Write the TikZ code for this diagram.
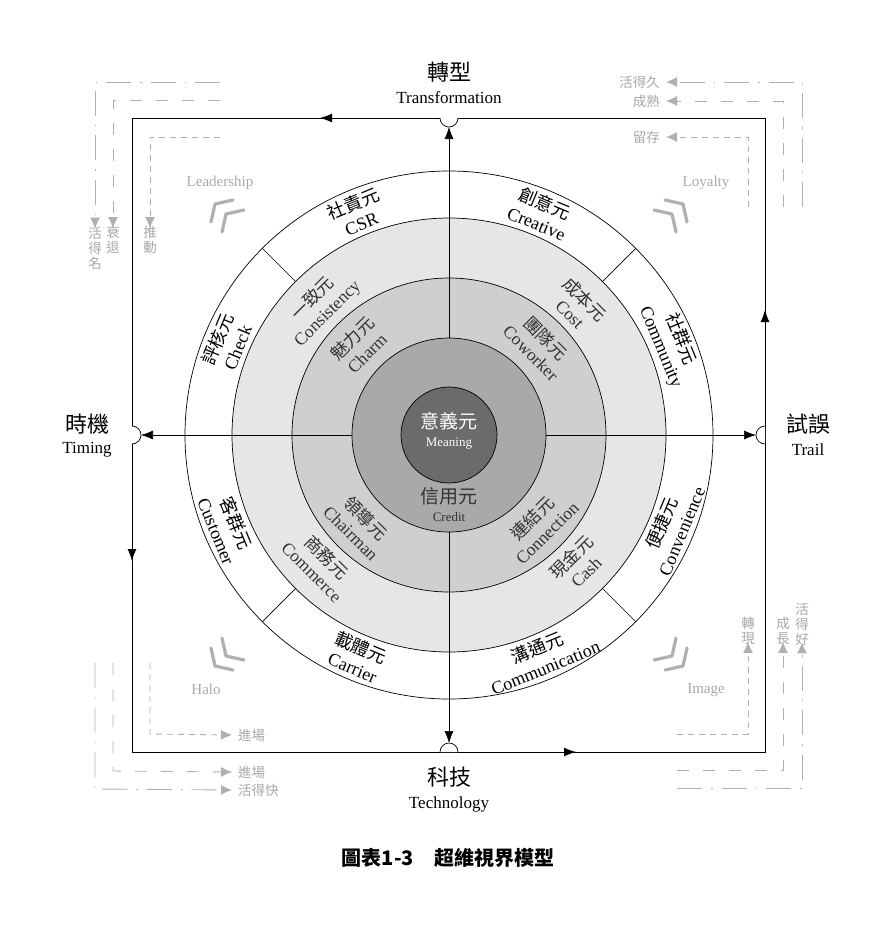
\documentclass[tikz,border=0pt]{standalone}
\usepackage{fontspec}
\setmainfont{Liberation Serif}
\newfontfamily\cjk{Noto Sans CJK TC}
\usetikzlibrary{arrows.meta,decorations.markings}
\definecolor{gl}{HTML}{B0B0B2}
\definecolor{gt}{HTML}{A8A8AA}
\definecolor{r1}{HTML}{E6E6E8}
\definecolor{r2}{HTML}{CFCFD1}
\definecolor{r3}{HTML}{A9A9AB}
\definecolor{r4}{HTML}{6B6B6D}
\begin{document}
\begin{tikzpicture}[x=1pt,y=-1pt,
  lbl/.style={align=center,font=\fontsize{18}{21}\selectfont,inner sep=0pt},
  lblin/.style={lbl,text=black!80,font=\fontsize{17.5}{20.5}\selectfont},
  gline/.style={gl,line width=0.9pt},
  gin/.style={gline,dash pattern=on 6pt off 5pt},
  gmid/.style={gline,dash pattern=on 12pt off 14pt},
  gout/.style={gline,dash pattern=on 25pt off 9pt on 1.5pt off 9pt},
  gtip/.style={-{Latex[length=11pt,width=10pt]}},
  gtext/.style={text=gt,font=\cjk\fontsize{13.5}{15}\selectfont,inner sep=0pt,align=center},
  gword/.style={text=gt,font=\fontsize{15}{15}\selectfont,inner sep=0pt},
  chev/.style={gl,line width=3.2pt,line cap=round,line join=round},
  title/.style={align=center,inner sep=0pt},
  axis/.style={line width=0.6pt,-{Latex[length=12pt,width=9pt]}}]
\useasboundingbox (0,0) rectangle (892,935);
\coordinate (C) at (449,435);
% rings
\fill[white] (C) circle[radius=264pt];
\draw[line width=0.7pt] (C) circle[radius=264pt];
\draw[line width=0.7pt,fill=r1] (C) circle[radius=217pt];
\draw[line width=0.7pt,fill=r2] (C) circle[radius=157pt];
\draw[line width=0.7pt,fill=r3] (C) circle[radius=97pt];
\draw[line width=0.7pt,fill=r4] (C) circle[radius=48pt];
% diagonals in outer band
\draw[line width=0.7pt] (602.4,281.6) -- (635.7,248.3);
\draw[line width=0.7pt] (295.6,281.6) -- (262.3,248.3);
\draw[line width=0.7pt] (295.6,588.4) -- (262.3,621.7);
\draw[line width=0.7pt] (602.4,588.4) -- (635.7,621.7);
% square with arrows
\coordinate (SBR) at (765,752);
\coordinate (STR) at (765,118);
\coordinate (STL) at (132,118);
\coordinate (SBL) at (132,752);
\draw[line width=0.9pt,postaction={decorate},decoration={markings,
  mark=at position 442pt with {\arrow{Latex[length=12pt,width=9pt]}},
  mark=at position 1079pt with {\arrow{Latex[length=12pt,width=9pt]}},
  mark=at position 1710pt with {\arrow{Latex[length=12pt,width=9pt]}},
  mark=at position 2345pt with {\arrow{Latex[length=12pt,width=9pt]}}}]
  (SBR) -- (STR) -- (STL) -- (SBL) -- cycle;
% semicircles
\draw[line width=0.7pt,fill=white] (440,118) arc[start angle=180,end angle=360,radius=9pt];
\draw[line width=0.7pt,fill=white] (440,752) arc[start angle=180,end angle=0,radius=9pt];
\draw[line width=0.7pt,fill=white] (132,426) arc[start angle=90,end angle=-90,radius=9pt];
\draw[line width=0.7pt,fill=white] (765,426) arc[start angle=90,end angle=270,radius=9pt];
% axes
\coordinate (AT) at (449,338); \coordinate (AB) at (449,532);
\coordinate (AL) at (352,435); \coordinate (AR) at (546,435);
\coordinate (TT) at (449,127); \coordinate (TB) at (449,743);
\coordinate (TL) at (141,435); \coordinate (TR) at (756,435);
\draw[axis] (AT) -- (TT);
\draw[axis] (AB) -- (TB);
\draw[axis] (AL) -- (TL);
\draw[axis] (AR) -- (TR);
% centre
\node[inner sep=0pt,text=white,font=\cjk\fontsize{19}{19}\selectfont] (mean) at (449,421) {意義元};
\node[inner sep=0pt,text=white,font=\fontsize{13}{13}\selectfont] (meanE) at (449,444) {Meaning};
\node[inner sep=0pt,text=black!80,font=\cjk\fontsize{19}{19}\selectfont] (cred) at (449,496) {信用元};
\node[inner sep=0pt,text=black!80,font=\fontsize{13}{13}\selectfont] (credE) at (449,517) {Credit};
% ring 3
\node[lblin,rotate=-45] (cow) at (539,345) {{\cjk 團隊元}\\Coworker};
\node[lblin,rotate=45] (cha) at (359,345) {{\cjk 魅力元}\\Charm};
\node[lblin,rotate=-45] (chm) at (359,525) {{\cjk 領導元}\\Chairman};
\node[lblin,rotate=45] (con) at (539,525) {{\cjk 連結元}\\Connection};
% ring 2
\node[lblin,rotate=-45] (cost) at (578,306) {{\cjk 成本元}\\Cost};
\node[lblin,rotate=45] (cons) at (320,306) {{\cjk 一致元}\\Consistency};
\node[lblin,rotate=-45] (comm) at (320,564) {{\cjk 商務元}\\Commerce};
\node[lblin,rotate=45] (cash) at (578,564) {{\cjk 現金元}\\Cash};
% outer band
\node[lbl,rotate=-67.5] (cty) at (671,343) {{\cjk 社群元}\\Community};
\node[lbl,rotate=-22.5] (cre) at (541,213) {{\cjk 創意元}\\Creative};
\node[lbl,rotate=22.5] (csr) at (357,213) {{\cjk 社責元}\\CSR};
\node[lbl,rotate=67.5] (chk) at (227,343) {{\cjk 評核元}\\Check};
\node[lbl,rotate=-67.5] (cus) at (227,527) {{\cjk 客群元}\\Customer};
\node[lbl,rotate=-22.5] (car) at (357,657) {{\cjk 載體元}\\Carrier};
\node[lbl,rotate=22.5] (cmu) at (541,657) {{\cjk 溝通元}\\Communication};
\node[lbl,rotate=67.5] (cnv) at (671,527) {{\cjk 便捷元}\\Convenience};
% titles
\node[title,font=\cjk\fontsize{22}{22}\selectfont] (tT) at (449,72) {轉型};
\node[title,font=\fontsize{17}{17}\selectfont] (tTe) at (449,98) {Transformation};
\node[title,font=\cjk\fontsize{22}{22}\selectfont] (tB) at (449,777) {科技};
\node[title,font=\fontsize{17}{17}\selectfont] (tBe) at (449,804) {Technology};
\node[title,font=\cjk\fontsize{22}{22}\selectfont] (tL) at (87,424) {時機};
\node[title,font=\fontsize{17}{17}\selectfont] (tLe) at (87,450) {Timing};
\node[title,font=\cjk\fontsize{22}{22}\selectfont] (tR) at (808,424) {試誤};
\node[title,font=\fontsize{17}{17}\selectfont] (tRe) at (808,450) {Trail};
% grey words and chevrons
\node[gword] (lead) at (220,183) {Leadership};
\node[gword] (loy) at (706,183) {Loyalty};
\node[gword] (halo) at (206,689) {Halo};
\node[gword] (img) at (706,690) {Image};
\draw[chev] (211,222)--(215,204)--(233,200);
\draw[chev] (222,232)--(226,214)--(244,210);
\draw[chev] (687,222)--(683,204)--(665,200);
\draw[chev] (676,232)--(672,214)--(654,210);
\draw[chev] (211,648)--(215,666)--(233,670);
\draw[chev] (222,638)--(226,656)--(244,660);
\draw[chev] (687,648)--(683,666)--(665,670);
\draw[chev] (676,638)--(672,656)--(654,660);
% top-left grey paths
\node[gtext] (tl1) at (150,240) {推\\動};
\node[gtext] (tl2) at (113,240) {衰\\退};
\node[gtext] (tl3) at (95,248) {活\\得\\名};
\coordinate (a1) at (220,137); \coordinate (a2) at (220,100); \coordinate (a3) at (220,82);
\draw[gin,gtip] (a1) -- (150,137) -- ([yshift=-2pt]tl1.north);
\draw[gmid,gtip] (a2) -- (113,100) -- ([yshift=-2pt]tl2.north);
\draw[gout,gtip] (a3) -- (95,82) -- ([yshift=-2pt]tl3.north);
% top-right
\node[gtext,anchor=east] (tr1) at (660,137) {留存};
\node[gtext,anchor=east] (tr2) at (660,101) {成熟};
\node[gtext,anchor=east] (tr3) at (660,82) {活得久};
\coordinate (b1) at (748,207); \coordinate (b2) at (783,207); \coordinate (b3) at (802,207);
\draw[gin,gtip] (b1) -- (748,137) -- ([xshift=6pt]tr1.east);
\draw[gmid,gtip] (b2) -- (783,101) -- ([xshift=6pt]tr2.east);
\draw[gout,gtip] (b3) -- (802,82) -- ([xshift=6pt]tr3.east);
% bottom-left
\node[gtext,anchor=west] (bl1) at (238,735) {進場};
\node[gtext,anchor=west] (bl2) at (238,772) {進場};
\node[gtext,anchor=west] (bl3) at (238,790) {活得快};
\coordinate (c1) at (150,663); \coordinate (c2) at (113,663); \coordinate (c3) at (95,663);
\draw[gin,gtip] (c1) -- (150,734) -- ([xshift=-6pt]bl1.west);
\draw[gmid,gtip] (c2) -- (113,771) -- ([xshift=-6pt]bl2.west);
\draw[gout,gtip] (c3) -- (95,789) -- ([xshift=-6pt]bl3.west);
% bottom-right
\node[gtext] (br1) at (748,631) {轉\\現};
\node[gtext] (br2) at (783,631) {成\\長};
\node[gtext] (br3) at (802,624) {活\\得\\好};
\coordinate (d1) at (677,734); \coordinate (d2) at (677,770); \coordinate (d3) at (677,788);
\draw[gin,gtip] (d1) -- (748,734) -- ([yshift=3pt]br1.south);
\draw[gmid,gtip] (d2) -- (783,770) -- ([yshift=3pt]br2.south);
\draw[gout,gtip] (d3) -- (802,788) -- ([yshift=3pt]br3.south);
% caption
\node[title,font=\cjk\bfseries\fontsize{20}{20}\selectfont] (cap) at (448,858) {圖表1-3\hspace{1em}超維視界模型};
\end{tikzpicture}
\end{document}
